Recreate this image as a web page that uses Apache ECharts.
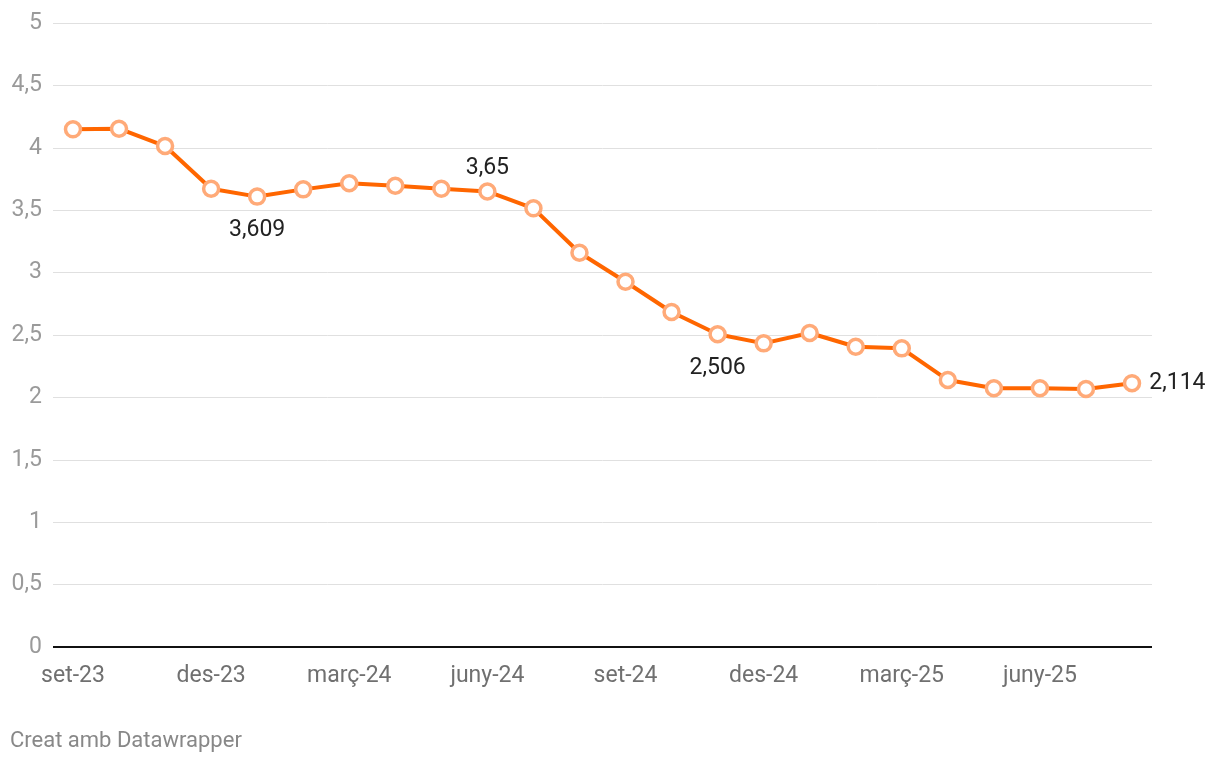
<!DOCTYPE html>
<html><head><meta charset="utf-8">
<script src="https://cdn.jsdelivr.net/npm/echarts@6/dist/echarts.min.js"></script>
<style>html,body{margin:0;padding:0;background:#fff;}#c{width:1220px;height:764px;}</style>
</head><body><div id="c"></div>
<script>
const months = ['set-23','oct-23','nov-23','des-23','gen-24','febr-24','març-24','abr-24','maig-24','juny-24','jul-24','ag-24','set-24','oct-24','nov-24','des-24','gen-25','febr-25','març-25','abr-25','maig-25','juny-25','jul-25','ag-25'];
const values = [4.148,4.153,4.014,3.672,3.609,3.667,3.716,3.696,3.672,3.65,3.515,3.159,2.927,2.684,2.506,2.433,2.516,2.406,2.393,2.139,2.073,2.073,2.067,2.114];
const shownTickIdx = [0,3,6,9,12,15,18,21];
const yTicks = [0,0.5,1,1.5,2,2.5,3,3.5,4,4.5,5];
const annotated = {4:'bottom', 9:'top', 14:'bottom', 23:'right'};

const fmt = v => String(v).replace('.', ',');
const data = values.map((v,i) => {
  const d = {value:[i,v]};
  if (annotated[i]) {
    const pos = annotated[i];
    d.label = {show:true, position:pos, distance: pos==='bottom'?13:(pos==='top'?2:8),
      formatter: p => fmt(p.value[1]), color:'#222', fontSize:23, fontFamily:'Roboto'};
  }
  return d;
});

const chart = echarts.init(document.getElementById('c'), null, {renderer:'canvas'});
chart.setOption({
  animation:false,
  backgroundColor:'#fff',
  grid:{left:53, right:68, top:23, bottom:117, containLabel:false},
  xAxis:{type:'value', min:-0.434, max:23.434,
    axisLine:{show:false}, axisTick:{show:false}, splitLine:{show:false},
    axisLabel:{customValues:shownTickIdx, formatter:v=>months[Math.round(v)]||'', color:'#707070', fontSize:23, fontFamily:'Roboto', margin:18}
  },
  yAxis:{type:'value', min:0, max:5, interval:0.5,
    axisLine:{show:false}, axisTick:{show:false},
    splitLine:{lineStyle:{color:'#e0e0e0', width:1}},
    axisLabel:{formatter:v=>fmt(v), color:'#9a9a9a', fontSize:23, fontFamily:'Roboto', margin:11, padding:[4,0,0,0]}
  },
  series:[
    {type:'line', data:data, symbol:'circle', symbolSize:15,
     lineStyle:{color:'#ff6600', width:4},
     itemStyle:{color:'#ffffff', borderColor:'#ffaa78', borderWidth:3.5},
     z:3},
    {type:'line', data:[[-0.434,0],[23.434,0]], symbol:'none', silent:true,
     lineStyle:{color:'#111', width:2}, z:2}
  ],
  graphic:[{type:'text', left:10, top:730, style:{text:'Creat amb Datawrapper', fill:'#888', font:'22px Roboto'}}]
});
</script></body></html>
